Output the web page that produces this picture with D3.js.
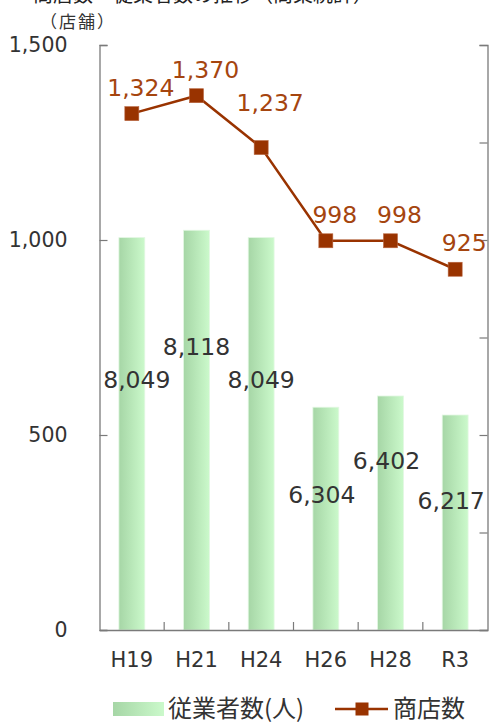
<!DOCTYPE html>
<html>
<head>
<meta charset="utf-8">
<script src="https://cdn.jsdelivr.net/npm/d3@7"></script>
<style>
  body { margin: 0; background: #fff; }
  svg { display: block; }
  text { font-family: "DejaVu Sans", Verdana, sans-serif; }
  .jp { font-family: "Noto Sans CJK JP", "Noto Sans", sans-serif; }
</style>
</head>
<body>
<svg width="489" height="722"></svg>
<script>
// data
const years = ["H19", "H21", "H24", "H26", "H28", "R3"];
const shops = [1324, 1370, 1237, 998, 998, 925];          // 商店数 (left axis)
const workers = [8049, 8118, 8049, 6304, 6402, 6217];     // 従業者数 labels
const workerBars = [8049, 8200, 8049, 4570, 4800, 4410];  // bar heights as drawn (right axis)
const leftTicks = [0, 500, 1000, 1500];
const rightTicks = [0, 2000, 4000, 6000, 8000, 10000, 12000];

const svg = d3.select("svg");
const pLeft = 99.5, pRight = 487.5, pTop = 45, pBottom = 630;

const x = d3.scaleBand().domain(years).range([pLeft, pRight]).padding(0);
const yL = d3.scaleLinear().domain([0, 1500]).range([pBottom, pTop]);
const yR = d3.scaleLinear().domain([0, 12000]).range([pBottom, pTop]);
// where the worker labels sit (they are staggered, not on the bars)
const yLab = d3.scaleLinear().domain([6217, 8049]).range([509, 388]);

const defs = svg.append("defs");
const grad = defs.append("linearGradient").attr("id", "barGrad")
  .attr("x1", 0).attr("x2", 1).attr("y1", 0).attr("y2", 0);
grad.append("stop").attr("offset", "0%").attr("stop-color", "#a6d6a6");
grad.append("stop").attr("offset", "100%").attr("stop-color", "#cbf9cb");

// cut-off title + unit
svg.append("text").attr("class", "jp")
  .attr("x", 33).attr("y", 2)
  .attr("font-size", 20).attr("fill", "#222")
  .text("商店数・従業者数の推移（商業統計）");
svg.append("text").attr("class", "jp")
  .attr("x", 40).attr("y", 20).attr("dominant-baseline", "central")
  .attr("font-size", 17).attr("letter-spacing", 2).attr("fill", "#333")
  .text("（店舗）");

// bars
const bw = x.bandwidth() * 0.4;
svg.selectAll(".bar")
  .data(workerBars)
  .enter()
  .append("rect")
  .attr("class", "bar")
  .attr("x", (d, i) => x(years[i]) + (x.bandwidth() - bw) / 2)
  .attr("y", d => yR(d))
  .attr("width", bw)
  .attr("height", d => pBottom - yR(d))
  .attr("fill", "url(#barGrad)")
  .attr("stroke", "#e2f7e2")
  .attr("stroke-width", 0.8);

// axes
const axisCol = "#7a7a7a";
const gL = svg.append("g")
  .attr("transform", `translate(${pLeft},0)`)
  .call(d3.axisLeft(yL).tickValues(leftTicks).tickSize(-8).tickPadding(32)
    .tickFormat(d3.format(",")));
const gR = svg.append("g")
  .attr("transform", `translate(${pRight},0)`)
  .call(d3.axisRight(yR).tickValues(rightTicks).tickSize(-8).tickFormat(""));
const gB = svg.append("g")
  .attr("transform", `translate(0,${pBottom})`)
  .call(d3.axisBottom(x).tickSize(0).tickPadding(22));

[gL, gR, gB].forEach(g => {
  g.select(".domain").attr("stroke", axisCol).attr("stroke-width", 1.3);
  g.selectAll(".tick line").attr("stroke", axisCol).attr("stroke-width", 1.2);
  g.selectAll("text").attr("fill", "#333")
    .attr("font-family", "DejaVu Sans, Verdana, sans-serif");
});
gL.selectAll("text").attr("font-size", 20.5);
gB.selectAll("text").attr("font-size", 21);

// category boundary ticks on the x axis
svg.selectAll(".xb")
  .data(years.slice(1))
  .enter()
  .append("line")
  .attr("x1", d => x(d)).attr("x2", d => x(d))
  .attr("y1", pBottom).attr("y2", pBottom - 8)
  .attr("stroke", axisCol).attr("stroke-width", 1.2);

// worker labels
svg.selectAll(".wl")
  .data(workers)
  .enter()
  .append("text")
  .attr("x", (d, i) => x(years[i]) + x.bandwidth() / 2 + (i === 0 ? 5 : i > 2 ? -4 : 0))
  .attr("y", (d, i) => yLab(d) - (i % 3 === 1 ? 28 : 0))
  .attr("text-anchor", "middle")
  .attr("font-size", 23.5)
  .attr("fill", "#333")
  .text(d => d3.format(",")(d));

// shops line
const lineCol = "#993300";
const cx = (d, i) => x(years[i]) + x.bandwidth() / 2;
svg.append("path")
  .datum(shops)
  .attr("fill", "none")
  .attr("stroke", lineCol)
  .attr("stroke-width", 2.5)
  .attr("d", d3.line().x(cx).y(d => yL(d)));

const ms = 14;
svg.selectAll(".mk")
  .data(shops)
  .enter()
  .append("rect")
  .attr("x", (d, i) => cx(d, i) - ms / 2)
  .attr("y", d => yL(d) - ms / 2)
  .attr("width", ms).attr("height", ms)
  .attr("fill", lineCol)
  .attr("stroke", "#b8653e").attr("stroke-width", 0.6);

svg.selectAll(".sl")
  .data(shops)
  .enter()
  .append("text")
  .attr("x", (d, i) => cx(d, i) + 9)
  .attr("y", (d, i) => yL(d) - (i === 2 ? 37 : 18))
  .attr("text-anchor", "middle")
  .attr("font-size", 23.5)
  .attr("fill", "#a5450f")
  .text(d => d3.format(",")(d));

// legend
const leg = svg.append("g");
leg.append("rect")
  .attr("x", 113).attr("y", 702).attr("width", 51).attr("height", 14)
  .attr("fill", "url(#barGrad)");
leg.append("text").attr("class", "jp")
  .attr("x", 168).attr("y", 706).attr("dominant-baseline", "central")
  .attr("font-size", 24).attr("fill", "#333")
  .text("従業者数(人)");
leg.append("line")
  .attr("x1", 335).attr("x2", 388).attr("y1", 709).attr("y2", 709)
  .attr("stroke", lineCol).attr("stroke-width", 2.5);
leg.append("rect")
  .attr("x", 362 - 6.5).attr("y", 709 - 6.5).attr("width", 13).attr("height", 13)
  .attr("fill", lineCol);
leg.append("text").attr("class", "jp")
  .attr("x", 393).attr("y", 706).attr("dominant-baseline", "central")
  .attr("font-size", 24).attr("fill", "#333")
  .text("商店数");
</script>
</body>
</html>
